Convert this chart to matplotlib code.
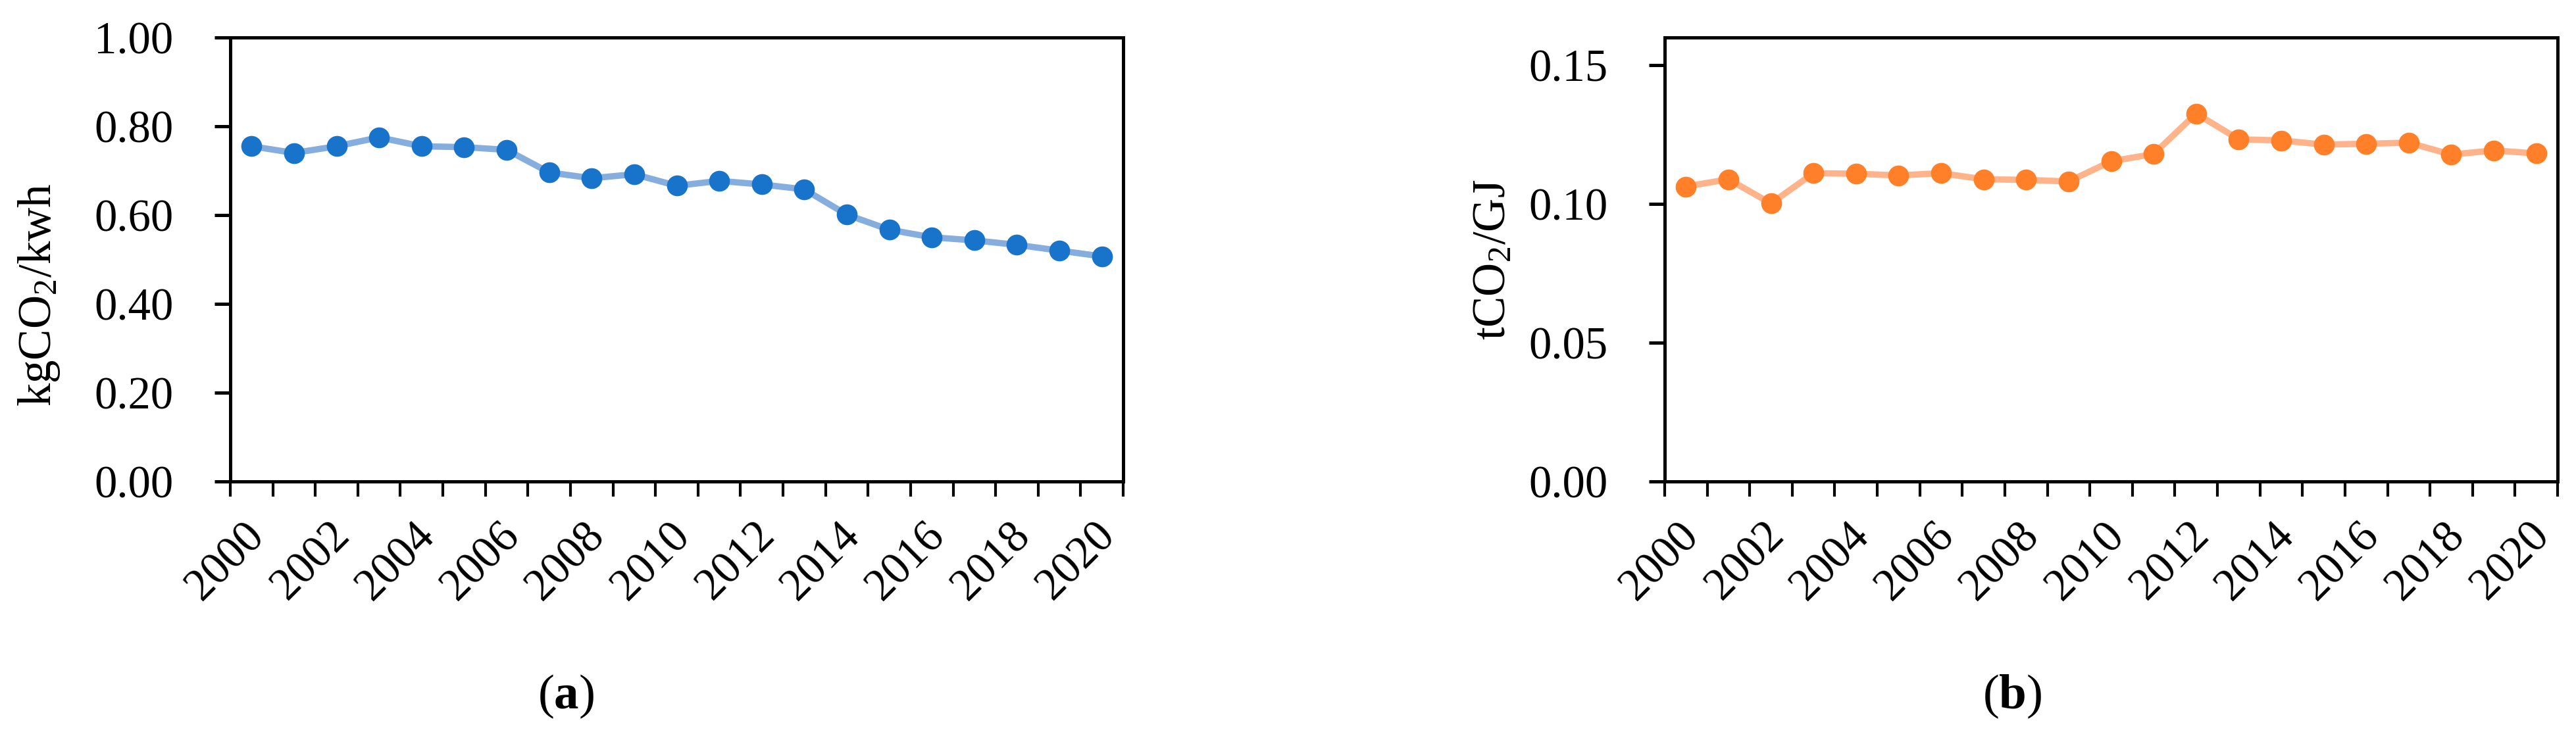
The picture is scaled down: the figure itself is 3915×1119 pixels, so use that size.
import matplotlib
matplotlib.use('Agg')
import matplotlib.pyplot as plt
from matplotlib.ticker import FormatStrFormatter
from matplotlib.transforms import ScaledTranslation
import numpy as np

plt.rcParams['font.family'] = ['Liberation Serif', 'DejaVu Serif']
plt.rcParams['mathtext.fontset'] = 'custom'
plt.rcParams['mathtext.rm'] = 'Liberation Serif'
plt.rcParams['mathtext.it'] = 'Liberation Serif:italic'
plt.rcParams['mathtext.bf'] = 'Liberation Serif:bold'

# data
years = list(range(2000, 2021))
electricity_factor = [0.755, 0.740, 0.755, 0.775, 0.755, 0.753, 0.747, 0.696, 0.683, 0.692,
                      0.666, 0.677, 0.669, 0.658, 0.601, 0.567, 0.550, 0.543, 0.533, 0.520, 0.507]
heat_factor = [0.1063, 0.1089, 0.1002, 0.1111, 0.1109, 0.1103, 0.1111, 0.1089, 0.1087, 0.1081,
               0.1154, 0.1180, 0.1326, 0.1233, 0.1229, 0.1214, 0.1217, 0.1221, 0.1178, 0.1193, 0.1182]
left_yticks = [0.0, 0.2, 0.4, 0.6, 0.8, 1.0]
right_yticks = [0.0, 0.05, 0.10, 0.15]

W, H = 3915, 1119
AX_W = 1357 / W
AX_H = 675 / H
AX_B = 1 - 732 / H


def draw_panel(fig, ax, values, marker_color, line_color, yticks, ylim, ylabel, label_xy):
    x = np.arange(len(years))
    ax.plot(x, values, color=line_color, lw=2.3, zorder=2, solid_capstyle='round')
    ax.plot(x, values, ls='none', marker='o', ms=7.6, color=marker_color,
            markeredgewidth=0, zorder=3)

    ax.set_xlim(-0.5, len(years) - 0.5)
    ax.set_ylim(*ylim)

    # categories labelled every two years, tick marks between categories
    ax.set_xticks(x[::2])
    ax.set_xticklabels([str(y) for y in years[::2]], rotation=45, ha='right',
                       va='center', rotation_mode='anchor')
    ax.set_xticks(np.arange(-0.5, len(years), 1.0), minor=True)
    ax.tick_params(axis='x', which='major', length=0, pad=19, labelsize=16.5)
    ax.tick_params(axis='x', which='minor', length=5.5, width=1.0, direction='out')
    shift = ScaledTranslation(10 / 300, 6 / 300, fig.dpi_scale_trans)
    for lbl in ax.get_xticklabels():
        lbl.set_transform(lbl.get_transform() + shift)

    ax.set_yticks(yticks)
    ax.yaxis.set_major_formatter(FormatStrFormatter('%.2f'))
    ax.tick_params(axis='y', length=5.8, width=1.2, direction='out', pad=15, labelsize=16.5)

    for sp in ax.spines.values():
        sp.set_linewidth(1.2)
        sp.set_color('black')

    ax.set_ylabel(ylabel, fontsize=17)
    ax.yaxis.set_label_coords(*label_xy)


def main():
    fig = plt.figure(figsize=(W / 300, H / 300), dpi=300)

    ax1 = fig.add_axes([350 / W, AX_B, AX_W, AX_H])
    draw_panel(fig, ax1, electricity_factor, '#1874CA', '#85ADDE', left_yticks, (0, 1.0),
               r'kgCO$_2$/kwh', (-0.189, 0.42))

    ax2 = fig.add_axes([2530 / W, AX_B, AX_W, AX_H])
    draw_panel(fig, ax2, heat_factor, '#FF8028', '#FFB38A', right_yticks, (0, 0.16),
               r'tCO$_2$/GJ', (-0.168, 0.5))

    fig.text(860 / W, 1 - 1059 / H, r'($\mathbf{a}$)', ha='center', va='center', fontsize=18)
    fig.text(3058 / W, 1 - 1059 / H, r'($\mathbf{b}$)', ha='center', va='center', fontsize=18)

    fig.savefig('out.png', dpi=300)


main()
